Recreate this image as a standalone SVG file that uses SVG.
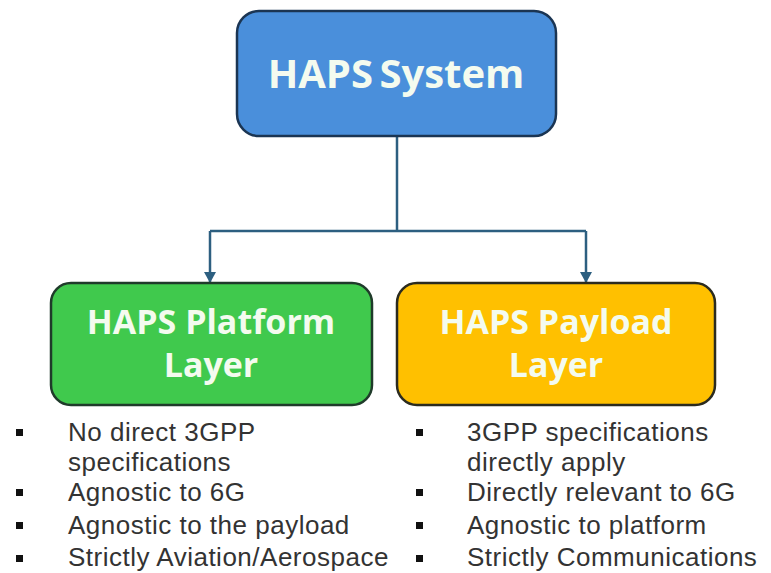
<svg xmlns="http://www.w3.org/2000/svg" width="771" height="573" viewBox="0 0 771 573">
<style>
.box{stroke-width:2.5}
.t{font-family:"Open Sans","Liberation Sans",Arial,sans-serif;font-weight:bold;fill:#f4fbef;text-anchor:middle}
.b{font-family:"Liberation Sans",Arial,sans-serif;font-size:26px;letter-spacing:0.5px;fill:#333}
.bl{fill:#111}
.c{fill:none;stroke:#2d5f80;stroke-width:2.5}
</style>
<defs>
<marker id="ah" markerWidth="12" markerHeight="12" refX="10" refY="6" orient="auto" markerUnits="userSpaceOnUse" viewBox="0 0 12 12">
<path d="M0,0 L11,6 L0,12 Z" fill="#2d5f80"/>
</marker>
</defs>
<rect width="771" height="573" fill="#fff"/>
<g id="connectors">
<line class="c" x1="397" y1="137" x2="397" y2="231"/>
<path class="c" d="M210,231 H586"/>
<path class="c" d="M210,231 V282" marker-end="url(#ah)"/>
<path class="c" d="M586,231 V282" marker-end="url(#ah)"/>
</g>
<g id="haps-system">
<rect class="box" x="237" y="11" width="319" height="125" rx="22" fill="#4a8fdb" stroke="#1b3553"/>
<text class="t" x="396" y="88" font-size="40" word-spacing="-4">HAPS System</text>
</g>
<g id="platform-layer">
<rect class="box" x="51" y="283" width="321" height="122" rx="20" fill="#40c94d" stroke="#1f3b2a"/>
<text class="t" x="211" y="334" font-size="34">HAPS Platform</text>
<text class="t" x="211" y="377" font-size="34">Layer</text>
</g>
<g id="payload-layer">
<rect class="box" x="397" y="283" width="318" height="122" rx="20" fill="#ffc000" stroke="#2b2b1f"/>
<text class="t" x="556" y="334" font-size="34">HAPS Payload</text>
<text class="t" x="556" y="377" font-size="34">Layer</text>
</g>
<g id="platform-notes">
<rect class="bl" x="16" y="429" width="7" height="7"/>
<rect class="bl" x="16" y="489" width="7" height="7"/>
<rect class="bl" x="16" y="522" width="7" height="7"/>
<rect class="bl" x="16" y="555" width="7" height="7"/>
<text class="b" x="68" y="441">No direct 3GPP</text>
<text class="b" x="68" y="471">specifications</text>
<text class="b" x="68" y="501">Agnostic to 6G</text>
<text class="b" x="68" y="534">Agnostic to the payload</text>
<text class="b" x="68" y="566">Strictly Aviation/Aerospace</text>
</g>
<g id="payload-notes">
<rect class="bl" x="416" y="429" width="7" height="7"/>
<rect class="bl" x="416" y="489" width="7" height="7"/>
<rect class="bl" x="416" y="522" width="7" height="7"/>
<rect class="bl" x="416" y="555" width="7" height="7"/>
<text class="b" x="467" y="441">3GPP specifications</text>
<text class="b" x="467" y="471">directly apply</text>
<text class="b" x="467" y="501">Directly relevant to 6G</text>
<text class="b" x="467" y="534">Agnostic to platform</text>
<text class="b" x="467" y="566">Strictly Communications</text>
</g>
</svg>
